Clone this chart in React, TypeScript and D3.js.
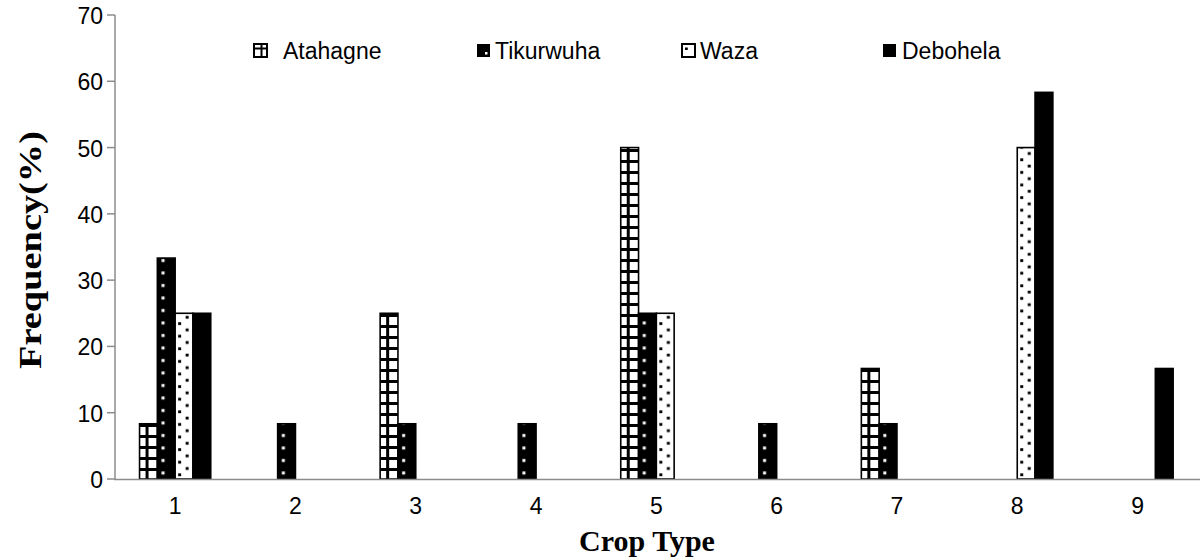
import React from "react";
import * as d3 from "d3";

const categories = ["1", "2", "3", "4", "5", "6", "7", "8", "9"];
const seriesNames = ["Atahagne", "Tikurwuha", "Waza", "Debohela"];
const atahagne = [8.33, 0, 25, 0, 50, 0, 16.67, 0, 0];
const tikurwuha = [33.33, 8.33, 8.33, 8.33, 25, 8.33, 8.33, 0, 0];
const waza = [25, 0, 0, 0, 25, 0, 0, 50, 0];
const debohela = [25, 0, 0, 0, 0, 0, 0, 58.33, 16.67];
const yTicks = [0, 10, 20, 30, 40, 50, 60, 70];

const series = [atahagne, tikurwuha, waza, debohela];

const W = 1200;
const H = 557;
const x0 = 115;
const band = 120.3;
const barW = 17.8;
const yTop = 15;
const yBot = 479;
const axisColor = "#8c8c8c";
const sans = "'Liberation Sans', Arial, sans-serif";
const serif = "'Liberation Serif', 'Times New Roman', serif";

const legendPos = [
  { mx: 254, tx: 283 },
  { mx: 477, tx: 495 },
  { mx: 682, tx: 700 },
  { mx: 883, tx: 902 },
];

function patternFor(s: number, id: string, bx: number) {
  if (s === 0) {
    return (
      <pattern key={id} id={id} patternUnits="userSpaceOnUse" x={bx + 6} y={yBot} width={12} height={11}>
        <rect width={12} height={11} fill="#fff" />
        <rect x={0} y={0} width={12} height={3} fill="#000" />
        <rect x={0} y={0} width={3} height={11} fill="#000" />
      </pattern>
    );
  }
  if (s === 1) {
    return (
      <pattern key={id} id={id} patternUnits="userSpaceOnUse" x={bx} y={yBot} width={barW} height={12.5}>
        <rect width={barW} height={12.5} fill="#000" />
        <rect x={4.2} y={5} width={3} height={3} fill="#fff" />
      </pattern>
    );
  }
  if (s === 2) {
    return (
      <pattern key={id} id={id} patternUnits="userSpaceOnUse" x={bx} y={yBot} width={barW} height={12.6}>
        <rect width={barW} height={12.6} fill="#fff" />
        <rect x={3} y={7} width={3} height={2.8} fill="#000" />
        <rect x={10.5} y={0.7} width={3} height={2.8} fill="#000" />
      </pattern>
    );
  }
  return null;
}

export default function App() {
  const x = d3.scaleBand<string>().domain(categories).range([x0, x0 + band * categories.length]).padding(0);
  const y = d3.scaleLinear().domain([0, 70]).range([yBot, yTop]);

  const bars: any[] = [];
  const defs: any[] = [];
  categories.forEach((c, ci) => {
    const center = (x(c) as number) + x.bandwidth() / 2;
    series.forEach((vals, si) => {
      const v = vals[ci];
      if (!v) return;
      const bx = center - 2 * barW + si * barW;
      const id = `p-${si}-${ci}`;
      const pat = patternFor(si, id, bx);
      if (pat) defs.push(pat);
      const fill = si === 3 ? "#000" : `url(#${id})`;
      bars.push(
        <rect
          key={id}
          x={bx}
          y={y(v)}
          width={barW}
          height={yBot - y(v)}
          fill={fill}
          stroke="#000"
          strokeWidth={1.6}
        />
      );
    });
  });

  const marker = (si: number, mx: number) => {
    const s = 13;
    const my = 44;
    if (si === 0)
      return (
        <g>
          <rect x={mx} y={my} width={s} height={s} fill="#fff" stroke="#000" strokeWidth={2} />
          <line x1={mx} x2={mx + s} y1={my + 4.5} y2={my + 4.5} stroke="#000" strokeWidth={2} />
          <line x1={mx + 7.5} x2={mx + 7.5} y1={my} y2={my + s} stroke="#000" strokeWidth={2} />
        </g>
      );
    if (si === 1)
      return (
        <g>
          <rect x={mx} y={my} width={s} height={s} fill="#000" />
          <rect x={mx + 8} y={my + 8} width={2.5} height={2.5} fill="#fff" />
        </g>
      );
    if (si === 2)
      return (
        <g>
          <rect x={mx} y={my} width={s} height={s} fill="#fff" stroke="#000" strokeWidth={2} />
          <rect x={mx + 3} y={my + 3.5} width={2.8} height={2.5} fill="#000" />
        </g>
      );
    return <rect x={mx} y={my} width={s} height={s} fill="#000" />;
  };

  return (
    <svg width={W} height={H} style={{ display: "block", position: "absolute", left: 0, top: 0 }}>
      <rect width={W} height={H} fill="#fff" />
      <defs>{defs}</defs>
      {bars}
      {/* axes */}
      <line x1={x0} x2={x0} y1={yTop} y2={yBot} stroke={axisColor} strokeWidth={1.5} />
      <line x1={x0 - 1} x2={W} y1={yBot + 0.5} y2={yBot + 0.5} stroke={axisColor} strokeWidth={1.5} />
      {yTicks.map((t) => (
        <g key={t}>
          <line x1={x0 - 8} x2={x0} y1={y(t)} y2={y(t)} stroke={axisColor} strokeWidth={1.5} />
          <text x={103} y={y(t) + 1} textAnchor="end" dominantBaseline="central" fontFamily={sans} fontSize={23} fill="#000">
            {t}
          </text>
        </g>
      ))}
      {categories.map((c) => (
        <text
          key={c}
          x={(x(c) as number) + x.bandwidth() / 2}
          y={506}
          textAnchor="middle"
          dominantBaseline="central"
          fontFamily={sans}
          fontSize={23}
          fill="#000"
        >
          {c}
        </text>
      ))}
      <text x={647} y={551} textAnchor="middle" fontFamily={serif} fontWeight="bold" fontSize={30} fill="#000">
        Crop Type
      </text>
      <text
        transform="translate(30,250) rotate(-90)"
        textAnchor="middle"
        dominantBaseline="central"
        fontFamily={serif}
        fontWeight="bold"
        fontSize={32}
        textLength={238}
        lengthAdjust="spacingAndGlyphs"
        fill="#000"
      >
        Frequency(%)
      </text>
      {seriesNames.map((n, i) => (
        <g key={n}>
          {marker(i, legendPos[i].mx)}
          <text x={legendPos[i].tx} y={51} dominantBaseline="central" fontFamily={sans} fontSize={23} fill="#000">
            {n}
          </text>
        </g>
      ))}
    </svg>
  );
}
